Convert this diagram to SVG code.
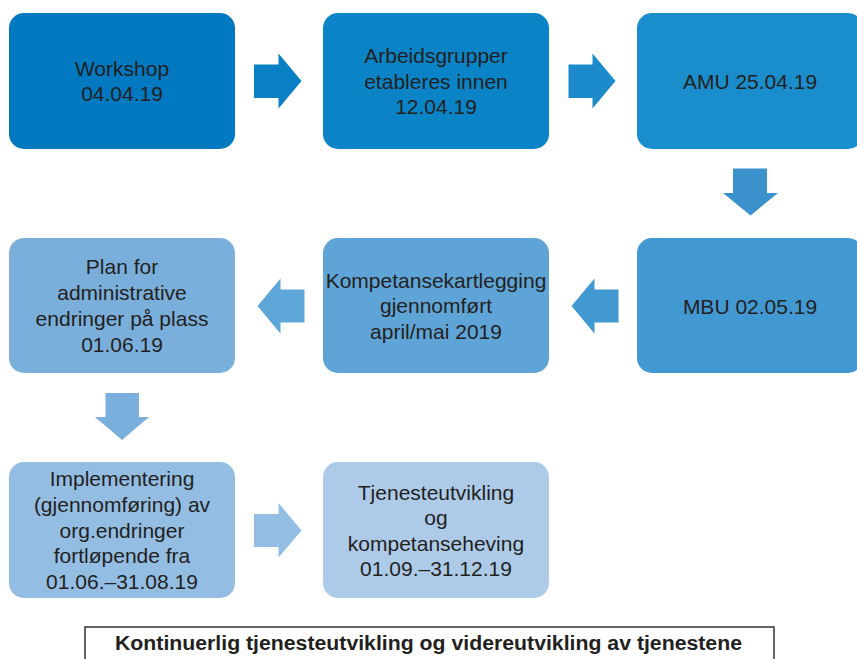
<svg xmlns="http://www.w3.org/2000/svg" width="857" height="659" viewBox="0 0 857 659">
<style>
.t{font-family:"Liberation Sans",Arial,sans-serif;font-size:21px;fill:#231f20;text-anchor:middle}
.b{font-family:"Liberation Sans",Arial,sans-serif;font-size:19.5px;font-weight:bold;fill:#231f20;text-anchor:middle}
</style>
<rect width="857" height="659" fill="#ffffff"/>
<g id="n1"><rect x="9" y="13" width="226" height="136" rx="15" fill="#0079c1"/>
<text class="t" x="122" y="75.5">Workshop</text><text class="t" x="122" y="101">04.04.19</text></g>
<g id="n2"><rect x="323" y="13" width="226" height="136" rx="15" fill="#0a84c6"/>
<text class="t" x="436" y="63">Arbeidsgrupper</text><text class="t" x="436" y="88.5">etableres innen</text><text class="t" x="436" y="114">12.04.19</text></g>
<g id="n3"><rect x="637" y="13" width="226" height="136" rx="15" fill="#1a8ecc"/>
<text class="t" x="750" y="88.5">AMU 25.04.19</text></g>
<g id="n4"><rect x="637" y="238" width="226" height="135" rx="15" fill="#4298d1"/>
<text class="t" x="750" y="313.5">MBU 02.05.19</text></g>
<g id="n5"><rect x="323" y="238" width="226" height="135" rx="15" fill="#5fa4d7"/>
<text class="t" x="436" y="287.5">Kompetansekartlegging</text><text class="t" x="436" y="313">gjennomført</text><text class="t" x="436" y="338.5">april/mai 2019</text></g>
<g id="n6"><rect x="9" y="238" width="226" height="135" rx="15" fill="#7aafdc"/>
<text class="t" x="122" y="274">Plan for</text><text class="t" x="122" y="300">administrative</text><text class="t" x="122" y="326">endringer på plass</text><text class="t" x="122" y="351.5">01.06.19</text></g>
<g id="n7"><rect x="9" y="462" width="226" height="136" rx="15" fill="#94bde3"/>
<text class="t" x="122" y="486">Implementering</text><text class="t" x="122" y="511.5">(gjennomføring) av</text><text class="t" x="122" y="537.5">org.endringer</text><text class="t" x="122" y="563">fortløpende fra</text><text class="t" x="122" y="589">01.06.–31.08.19</text></g>
<g id="n8"><rect x="323" y="462" width="226" height="136" rx="15" fill="#adcbe9"/>
<text class="t" x="436" y="499.5">Tjenesteutvikling</text><text class="t" x="436" y="525">og</text><text class="t" x="436" y="550.5">kompetanseheving</text><text class="t" x="436" y="576">01.09.–31.12.19</text></g>
<g id="connectors">
<polygon points="254,64.5 278.5,64.5 278.5,53.5 301.5,81 278.5,108.5 278.5,98 254,98" fill="#0a80c4"/>
<polygon points="568.5,64.5 592.5,64.5 592.5,53.5 615.5,81 592.5,108.5 592.5,98 568.5,98" fill="#1c8bcb"/>
<polygon points="733,168.5 767,168.5 767,193 778,193 750.5,215.5 723,193 733,193" fill="#3a91cb"/>
<polygon points="618.5,289.5 594.5,289.5 594.5,278.5 571.5,306 594.5,333.5 594.5,322.5 618.5,322.5" fill="#4299d1"/>
<polygon points="304.5,289.5 280.5,289.5 280.5,278.5 257.5,306 280.5,333.5 280.5,322.5 304.5,322.5" fill="#5ea5d8"/>
<polygon points="105.5,393 139,393 139,417 149,417 122,440 95,417 105.5,417" fill="#7aafdd"/>
<polygon points="254,514 278.5,514 278.5,503 301.5,530.5 278.5,557.5 278.5,547 254,547" fill="#93bde3"/>
</g>
<g id="footer"><rect x="85" y="627" width="689" height="50" fill="#ffffff" stroke="#333333" stroke-width="1.5"/>
<text class="b" x="428.5" y="650" textLength="627" lengthAdjust="spacingAndGlyphs">Kontinuerlig tjenesteutvikling og videreutvikling av tjenestene</text></g>
</svg>
